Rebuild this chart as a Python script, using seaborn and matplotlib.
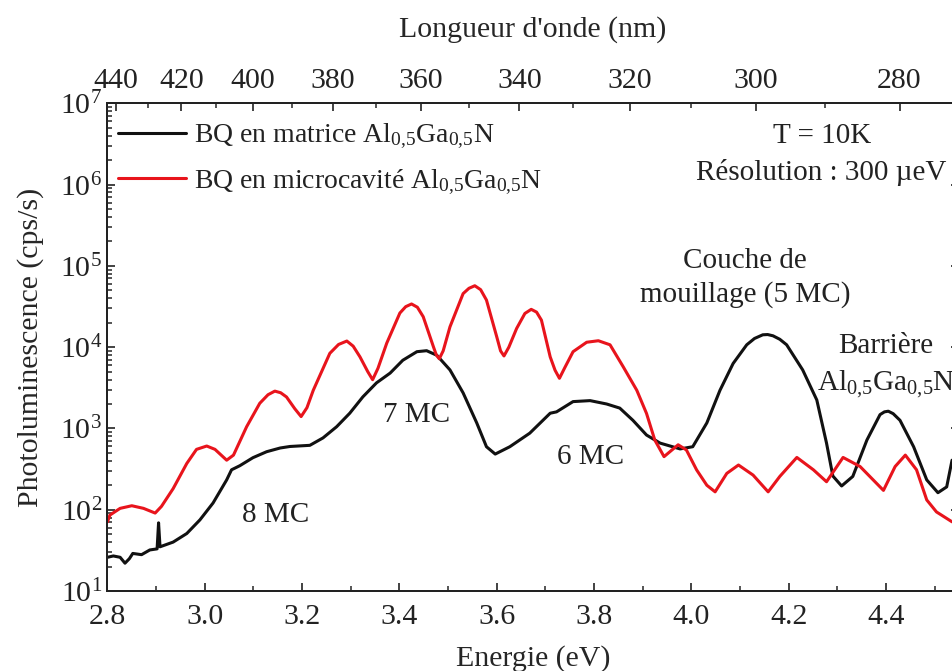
import numpy as np
import pandas as pd
import matplotlib
matplotlib.use("Agg")
import matplotlib.pyplot as plt
import seaborn as sns
from matplotlib.ticker import LogLocator, MultipleLocator, NullFormatter, FixedLocator

# ---------------- data ----------------
energy_black = [2.800, 2.812, 2.826, 2.836, 2.845, 2.852, 2.870, 2.887, 2.902, 2.905, 2.908,
                2.935, 2.963, 2.990, 3.017, 3.045, 3.055, 3.072, 3.099, 3.127, 3.155, 3.175,
                3.216, 3.243, 3.271, 3.298, 3.325, 3.353, 3.381, 3.407, 3.436, 3.456, 3.477,
                3.504, 3.531, 3.559, 3.579, 3.597, 3.627, 3.668, 3.710, 3.723, 3.757, 3.792,
                3.826, 3.853, 3.880, 3.908, 3.936, 3.977, 4.003, 4.032, 4.059, 4.086, 4.114,
                4.130, 4.147, 4.157, 4.168, 4.182, 4.196, 4.229, 4.258, 4.278, 4.291, 4.309,
                4.332, 4.361, 4.388, 4.397, 4.405, 4.415, 4.429, 4.457, 4.484, 4.507, 4.525,
                4.536]
pl_black = [26, 27, 26, 22, 25, 29, 28, 32, 33, 69, 35,
            40, 51, 75, 121, 233, 310, 348, 437, 517, 575, 600,
            620, 765, 1050, 1540, 2450, 3640, 4800, 6900, 8800, 9050, 7950,
            5250, 2740, 1170, 596, 484, 596, 875, 1540, 1600, 2140, 2200,
            2000, 1780, 1260, 830, 660, 560, 596, 1170, 2950, 6300, 10700,
            12800, 14200, 14300, 13800, 12500, 10700, 5250, 2240, 660, 260, 196,
            257, 720, 1480, 1600, 1630, 1520, 1260, 596, 233, 162, 191,
            407]

energy_red = [2.800, 2.805, 2.826, 2.850, 2.874, 2.898, 2.911, 2.935, 2.963, 2.983, 3.004,
              3.021, 3.045, 3.059, 3.086, 3.113, 3.130, 3.144, 3.156, 3.168, 3.185, 3.198,
              3.210, 3.223, 3.257, 3.275, 3.292, 3.305, 3.319, 3.335, 3.345, 3.356, 3.374,
              3.401, 3.413, 3.425, 3.437, 3.449, 3.470, 3.476, 3.482, 3.490, 3.504, 3.531,
              3.543, 3.555, 3.567, 3.579, 3.600, 3.608, 3.615, 3.625, 3.641, 3.658, 3.671,
              3.682, 3.692, 3.710, 3.720, 3.729, 3.740, 3.757, 3.785, 3.809, 3.833, 3.860,
              3.888, 3.908, 3.925, 3.944, 3.973, 3.990, 4.011, 4.032, 4.049, 4.073, 4.097,
              4.127, 4.158, 4.182, 4.217, 4.251, 4.278, 4.312, 4.347, 4.395, 4.419, 4.440,
              4.463, 4.484, 4.504, 4.536]
pl_red = [71, 86, 104, 112, 104, 91, 110, 182, 371, 553, 608,
          553, 407, 470, 1050, 2040, 2600, 2880, 2750, 2440, 1750, 1400,
          1800, 2950, 8400, 10800, 11900, 10300, 7600, 5000, 3980, 5500, 11200,
          26300, 31500, 34000, 31000, 23700, 10100, 8000, 7200, 9000, 17800, 45600,
          53000, 57000, 51000, 38000, 13500, 9000, 7800, 10000, 17000, 26000, 29200,
          27000, 21500, 7600, 5200, 4140, 5600, 8800, 11500, 12000, 10700, 5750,
          2950, 1530, 720, 450, 630, 543, 309, 200, 166, 280, 355,
          267, 166, 257, 440, 310, 221, 440, 340, 173, 340, 470,
          310, 132, 94, 71]

label_black = r"BQ en matrice Al$_{\mathregular{0{,}5}}$Ga$_{\mathregular{0{,}5}}$N"
label_red = r"BQ en microcavité Al$_{\mathregular{0{,}5}}$Ga$_{\mathregular{0{,}5}}$N"

energy_ticks = [2.8, 3.0, 3.2, 3.4, 3.6, 3.8, 4.0, 4.2, 4.4]
wavelength_major = [440, 420, 400, 380, 360, 340, 320, 300, 280]
wavelength_minor = [430, 410, 390, 370, 350, 330, 310, 290, 270]
HC = 1239.84  # eV.nm

# ---------------- figure ----------------
sns.set_theme(style="ticks")
plt.rcParams["font.family"] = ["Liberation Serif", "DejaVu Serif"]
plt.rcParams["mathtext.fontset"] = "custom"
plt.rcParams["mathtext.rm"] = "Liberation Serif"
plt.rcParams["mathtext.it"] = "Liberation Serif:italic"
plt.rcParams["mathtext.bf"] = "Liberation Serif:bold"
plt.rcParams["axes.linewidth"] = 1.4
plt.rcParams["axes.edgecolor"] = "#222222"
plt.rcParams["text.color"] = "#222222"

fig = plt.figure(figsize=(9.52, 6.71), dpi=100)
ax = fig.add_axes([0.1129, 0.1192, 0.8943, 0.7268])

df = pd.concat([
    pd.DataFrame({"E": energy_black, "PL": pl_black, "série": label_black}),
    pd.DataFrame({"E": energy_red, "PL": pl_red, "série": label_red}),
], ignore_index=True)

sns.lineplot(data=df, x="E", y="PL", hue="série", estimator=None, sort=False,
             palette={label_black: "#111111", label_red: "#e8141c"},
             linewidth=2.2, ax=ax, legend=True)

ax.set_yscale("log")
ax.set_xlim(2.8, 4.55)
ax.set_ylim(10, 1e7)

ax.set_xticks(energy_ticks)
ax.set_xticklabels([f"{v:.1f}" for v in energy_ticks])
ax.xaxis.set_minor_locator(MultipleLocator(0.1))
ax.yaxis.set_major_locator(LogLocator(base=10, numticks=20))
ax.yaxis.set_minor_locator(LogLocator(base=10, subs=np.arange(2, 10), numticks=50))
ax.yaxis.set_minor_formatter(NullFormatter())

ax.tick_params(axis="both", which="major", direction="in", length=6, width=1.2,
               labelsize=21.5, colors="#222222")
ax.tick_params(axis="both", which="minor", direction="in", length=3.5, width=1.1)
ax.tick_params(axis="x", which="both", top=False, bottom=True, pad=9)
ax.tick_params(axis="y", which="both", left=True, right=True, labelright=False, pad=4)

ax.set_xlabel("Energie (eV)", fontsize=21.5, labelpad=11)
ax.set_ylabel("Photoluminescence (cps/s)", fontsize=21.5, labelpad=11)

# top wavelength axis
ax2 = ax.twiny()
ax2.set_xlim(ax.get_xlim())
ax2.xaxis.set_major_locator(FixedLocator([HC / w for w in wavelength_major]))
ax2.set_xticklabels([str(w) for w in wavelength_major])
ax2.xaxis.set_minor_locator(FixedLocator([HC / w for w in wavelength_minor]))
ax2.tick_params(axis="x", which="major", direction="in", length=6, width=1.2,
                labelsize=21.5, pad=7, colors="#222222")
ax2.tick_params(axis="x", which="minor", direction="in", length=3.5, width=1.1)
ax2.set_xlabel("Longueur d'onde (nm)", fontsize=21.5, labelpad=22)
for s in ax2.spines.values():
    s.set_linewidth(1.4)

# legend
handles, labels = ax.get_legend_handles_labels()
leg = ax.legend(handles, labels, loc="upper left", bbox_to_anchor=(0.012, 0.962),
                frameon=False, fontsize=20, handlelength=2.45, handletextpad=0.3,
                labelspacing=0.6, borderaxespad=0.0, borderpad=0.0)
for h in leg.get_lines():
    h.set_linewidth(2.2)

# annotations
txt = dict(fontsize=21, ha="center", va="baseline")
ax.text(3.145, 10 ** 1.852, "8 MC", **txt)
ax.text(3.435, 10 ** 3.083, "7 MC", **txt)
ax.text(3.792, 10 ** 2.562, "6 MC", **txt)
ax.text(4.111, 10 ** 4.970, "Couche de", **txt)
ax.text(4.111, 10 ** 4.559, "mouillage (5 MC)", **txt)
ax.text(4.400, 10 ** 3.924, "Barrière", **txt)
ax.text(4.400, 10 ** 3.473, r"Al$_{\mathregular{0{,}5}}$Ga$_{\mathregular{0{,}5}}$N", **txt)
ax.text(4.268, 10 ** 6.508, "T = 10K", **txt)
ax.text(4.268, 10 ** 6.056, "Résolution : 300 µeV", **txt)

fig.savefig("out.png", dpi=100)
